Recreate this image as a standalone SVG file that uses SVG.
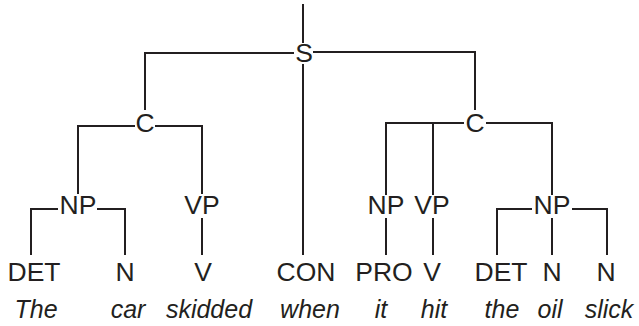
<svg xmlns="http://www.w3.org/2000/svg" width="639" height="326" viewBox="0 0 639 326">
<style>
.l{stroke:#231f20;stroke-width:2;fill:none;stroke-linecap:butt}
.t{font-family:"Liberation Sans",Arial,sans-serif;font-size:26.5px;fill:#231f20;text-anchor:middle}
.w{font-family:"Liberation Sans",Arial,sans-serif;font-size:25px;font-style:italic;fill:#231f20;text-anchor:middle}
</style>
<rect width="639" height="326" fill="#fff"/>
<g id="connectors" class="l">
<path d="M303,4V43"/>
<path d="M294,53H145V110"/>
<path d="M313,52H475V110"/>
<path d="M303,64V255"/>
<path d="M135,126H78V194M155,126H202V194"/>
<path d="M58,209H31V255M97,209H125V255"/>
<path d="M202,218V255"/>
<path d="M464,123H386V195M433,123V195M486,123H552V195"/>
<path d="M386,218V255M433,218V255"/>
<path d="M532,209H497V255M572,209H607V255M552,218V255"/>
</g>
<g id="n-S"><text class="t" x="304" y="62">S</text></g>
<g id="n-C1"><text class="t" x="145" y="132">C</text></g>
<g id="n-C2"><text class="t" x="475" y="132">C</text></g>
<g id="n-NP1"><text class="t" x="78" y="214">NP</text></g>
<g id="n-VP1"><text class="t" x="202" y="214">VP</text></g>
<g id="n-NP2"><text class="t" x="386" y="214">NP</text></g>
<g id="n-VP2"><text class="t" x="432" y="214">VP</text></g>
<g id="n-NP3"><text class="t" x="552" y="214">NP</text></g>
<g id="n-DET1"><text class="t" x="34" y="281">DET</text></g>
<g id="n-N1"><text class="t" x="125" y="281">N</text></g>
<g id="n-V1"><text class="t" x="203" y="281">V</text></g>
<g id="n-CON"><text class="t" x="306" y="281">CON</text></g>
<g id="n-PRO"><text class="t" x="384" y="281">PRO</text></g>
<g id="n-V2"><text class="t" x="432" y="281">V</text></g>
<g id="n-DET2"><text class="t" x="501" y="281">DET</text></g>
<g id="n-N2"><text class="t" x="552" y="281">N</text></g>
<g id="n-N3"><text class="t" x="606" y="281">N</text></g>
<g id="words">
<text class="w" x="36" y="318">The</text>
<text class="w" x="128" y="318">car</text>
<text class="w" x="209" y="318">skidded</text>
<text class="w" x="310" y="318">when</text>
<text class="w" x="381" y="318">it</text>
<text class="w" x="434" y="318">hit</text>
<text class="w" x="502" y="318">the</text>
<text class="w" x="550" y="318">oil</text>
<text class="w" x="609" y="318">slick</text>
</g>
</svg>
